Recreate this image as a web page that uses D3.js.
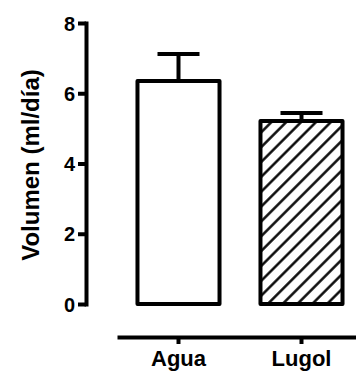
<!DOCTYPE html>
<html>
<head>
<meta charset="utf-8">
<script src="https://cdn.jsdelivr.net/npm/d3@7"></script>
<style>
  body { margin: 0; background: #fff; }
  text { font-family: "Liberation Sans", Arial, sans-serif; font-weight: bold; fill: #000; }
</style>
</head>
<body>
<div id="chart"></div>
<script>
// data
var groups = ["Agua", "Lugol"];
var means = [6.35, 5.21];
var sems = [0.77, 0.23];
var yTicks = [0, 2, 4, 6, 8];
var yTitle = "Volumen (ml/día)";

var width = 356, height = 371;
var lw = 4; // heavy Prism style strokes

var svg = d3.select("#chart")
  .append("svg")
    .attr("width", width)
    .attr("height", height);

// hatch for the second bar (line in the middle of the tile so it is not clipped)
var hs = 10.5;
var defs = svg.append("defs");
defs.append("pattern")
    .attr("id", "hatch")
    .attr("patternUnits", "userSpaceOnUse")
    .attr("width", hs)
    .attr("height", hs)
    .attr("patternTransform", "rotate(45)")
  .append("line")
    .attr("x1", hs/2).attr("y1", -1)
    .attr("x2", hs/2).attr("y2", hs + 1)
    .style("stroke", "#000")
    .style("stroke-width", 2.4);

var y = d3.scaleLinear()
  .domain([0, 8])
  .range([304, 23]);

var x = d3.scaleBand()
  .domain(groups)
  .range([117, 363])
  .paddingInner(0.333)
  .paddingOuter(0.1665);

// y axis
var yAxis = svg.append("g")
  .attr("transform", "translate(86,0)")
  .call(d3.axisLeft(y).tickValues(yTicks).tickSize(8).tickPadding(3).tickSizeOuter(0));
yAxis.select(".domain").style("stroke-width", lw).style("stroke-linecap", "square");
yAxis.selectAll(".tick line").style("stroke-width", lw);
yAxis.selectAll(".tick text")
  .style("font-size", "20px")
  .attr("dy", "0.36em");

svg.append("text")
  .attr("transform", "translate(39,165)rotate(-90)")
  .attr("text-anchor", "middle")
  .style("font-size", "24px")
  .text(yTitle);

// x axis, set apart below the bars
var xAxis = svg.append("g")
  .attr("transform", "translate(0,337)")
  .call(d3.axisBottom(x).tickSize(7).tickPadding(6).tickSizeOuter(0));
xAxis.select(".domain").style("stroke-width", lw);
xAxis.selectAll(".tick line").style("stroke-width", lw);
xAxis.selectAll(".tick text")
  .style("font-size", "22px");

// bars
svg.append("g")
  .selectAll("rect")
  .data(groups)
  .enter()
  .append("rect")
    .attr("x", function(d){ return x(d); })
    .attr("y", function(d, i){ return y(means[i]); })
    .attr("width", x.bandwidth())
    .attr("height", function(d, i){ return y(0) - y(means[i]); })
    .attr("fill", function(d, i){ return i == 1 ? "url(#hatch)" : "#fff"; })
    .style("stroke", "#000")
    .style("stroke-width", lw)
    .style("stroke-linejoin", "round");

// error bars (upper only)
var err = svg.append("g");
groups.forEach(function(d, i){
  var cx = x(d) + x.bandwidth()/2;
  err.append("line")
    .attr("x1", cx).attr("x2", cx)
    .attr("y1", y(means[i])).attr("y2", y(means[i] + sems[i]))
    .style("stroke", "#000").style("stroke-width", lw);
  err.append("line")
    .attr("x1", cx - 21).attr("x2", cx + 21)
    .attr("y1", y(means[i] + sems[i])).attr("y2", y(means[i] + sems[i]))
    .style("stroke", "#000").style("stroke-width", lw);
});
</script>
</body>
</html>
